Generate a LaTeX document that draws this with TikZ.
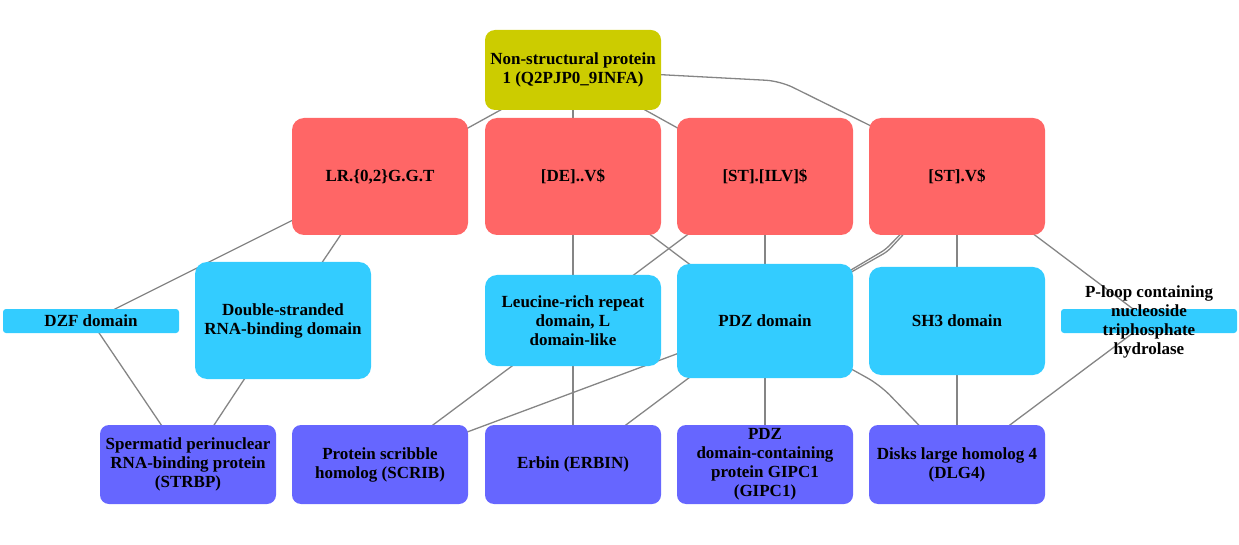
\documentclass[tikz,border=0pt]{standalone}
\usepackage{fontspec}
\setmainfont{Liberation Serif}
\usetikzlibrary{backgrounds}
\definecolor{nsyellow}{HTML}{CCCC00}
\definecolor{motifred}{HTML}{FF6666}
\definecolor{domblue}{HTML}{33CCFF}
\definecolor{protpurple}{HTML}{6666FF}
\definecolor{edgegray}{HTML}{858585}
\tikzset{
  boxbase/.style={rectangle, inner sep=0pt, align=center, text=black,
    font=\bfseries\fontsize{17}{19}\selectfont, minimum width=176pt},
  viralbox/.style={boxbase, fill=nsyellow, minimum height=80pt, rounded corners=10pt},
  motifbox/.style={boxbase, fill=motifred, minimum height=117pt, rounded corners=12pt},
  domainbox/.style={boxbase, fill=domblue, rounded corners=12pt},
  flatdomain/.style={boxbase, fill=domblue, minimum height=24pt, rounded corners=3pt},
  protbox/.style={boxbase, fill=protpurple, minimum height=79pt, rounded corners=9pt},
  link/.style={draw=edgegray, line width=1.3pt},
}
\begin{document}
\begin{tikzpicture}[x=1pt, y=-1pt]
\useasboundingbox (0,0) rectangle (1239,545);
% top viral protein
\node[viralbox] (ns1) at (573,70) {Non-structural protein\\1 (Q2PJP0\_9INFA)};
% motifs
\node[motifbox] (lr) at (380,176.5) {LR.\{0,2\}G.G.T};
\node[motifbox] (de) at (573,176.5) {[DE]..V\$};
\node[motifbox] (stilv) at (765,176.5) {[ST].[ILV]\$};
\node[motifbox] (stv) at (957,176.5) {[ST].V\$};
% domains
\node[flatdomain] (dzf) at (91,321) {DZF domain};
\node[domainbox, minimum height=117pt] (dsrbd) at (283,320.5) {Double-stranded\\RNA-binding domain};
\node[domainbox, minimum height=91pt] (lrr) at (573,320.5) {Leucine-rich repeat\\domain, L\\domain-like};
\node[domainbox, minimum height=114pt] (pdz) at (765,321) {PDZ domain};
\node[domainbox, minimum height=108pt] (sh3) at (957,321) {SH3 domain};
\node[flatdomain] (ploop) at (1149,321) {\raisebox{-12pt}{\smash{\begin{tabular}{@{}c@{}}P-loop containing\\nucleoside\\triphosphate\\hydrolase\end{tabular}}}};
% proteins
\node[protbox] (strbp) at (188,464.5) {Spermatid perinuclear\\RNA-binding protein\\(STRBP)};
\node[protbox] (scrib) at (380,464.5) {Protein scribble\\homolog (SCRIB)};
\node[protbox] (erbin) at (573,464.5) {Erbin (ERBIN)};
\node[protbox] (gipc1) at (765,464.5) {PDZ\\domain-containing\\protein GIPC1\\(GIPC1)};
\node[protbox] (dlg4) at (957,464.5) {Disks large homolog 4\\(DLG4)};
% connectors
\begin{scope}[on background layer]
\draw[link] (ns1.center) -- (lr.center);
\draw[link] (ns1.center) -- (de.center);
\draw[link] (ns1.center) -- (stilv.center);
\draw[link, rounded corners=14pt] (ns1.center) -- (780,81) -- ([yshift=8pt]stv.center);
\draw[link] (lr.center) -- (dzf.center);
\draw[link] (lr.center) -- (dsrbd.center);
\draw[link] (de.center) -- (lrr.center);
\draw[link] (de.center) -- (pdz.center);
\draw[link] (stilv.center) -- (lrr.center);
\draw[link] (stilv.center) -- (pdz.center);
\draw[link, rounded corners=5pt] (stv.center) -- (887.5,251.5) -- (pdz.center);
\draw[link, rounded corners=5pt] (stv.center) -- (885.5,249.5) -- (pdz.center);
\draw[link] (stv.center) -- (sh3.center);
\draw[link] (stv.center) -- (ploop.center);
\draw[link] (dzf.center) -- (strbp.center);
\draw[link] (dsrbd.center) -- (strbp.center);
\draw[link] (lrr.center) -- (scrib.center);
\draw[link] (lrr.center) -- (erbin.center);
\draw[link] (pdz.center) -- (scrib.center);
\draw[link] (pdz.center) -- (erbin.center);
\draw[link] (pdz.center) -- (gipc1.center);
\draw[link, rounded corners=14pt] (pdz.center) -- (880,385) -- (dlg4.center);
\draw[link] (sh3.center) -- (dlg4.center);
\draw[link] (ploop.center) -- (dlg4.center);
\end{scope}
\end{tikzpicture}
\end{document}
